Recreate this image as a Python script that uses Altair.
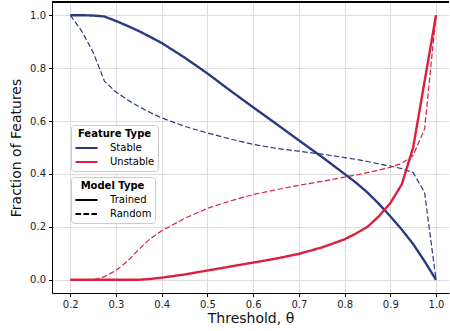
import altair as alt
import pandas as pd

thresholds = [0.2, 0.225, 0.25, 0.275, 0.3, 0.325, 0.35, 0.375, 0.4, 0.45, 0.5, 0.55,
              0.6, 0.65, 0.7, 0.75, 0.8, 0.825, 0.85, 0.875, 0.9, 0.925, 0.95, 0.975, 1.0]

stable_trained = [1.0, 1.0, 0.999, 0.995, 0.978, 0.96, 0.94, 0.918, 0.895, 0.84, 0.78, 0.715,
                  0.652, 0.59, 0.527, 0.465, 0.40, 0.367, 0.33, 0.287, 0.24, 0.19, 0.135, 0.07, 0.0]
stable_random = [1.0, 0.94, 0.86, 0.75, 0.71, 0.68, 0.655, 0.632, 0.612, 0.58, 0.555, 0.532,
                 0.512, 0.497, 0.486, 0.475, 0.462, 0.455, 0.447, 0.438, 0.43, 0.42, 0.405, 0.33, 0.0]
unstable_trained = [0.0, 0.0, 0.0, 0.0, 0.0, 0.0, 0.0, 0.003, 0.008, 0.02, 0.035, 0.05,
                    0.065, 0.08, 0.098, 0.122, 0.153, 0.175, 0.2, 0.24, 0.29, 0.36, 0.5, 0.75, 1.0]
unstable_random = [0.0, 0.0, 0.0, 0.012, 0.035, 0.07, 0.115, 0.155, 0.185, 0.232, 0.27, 0.298,
                   0.322, 0.34, 0.357, 0.372, 0.388, 0.396, 0.405, 0.415, 0.425, 0.44, 0.47, 0.57, 1.0]

feature_types = ["Stable", "Unstable"]
model_types = ["Trained", "Random"]
colors = ["#2c3a82", "#dc1f3e"]

series = {
    ("Stable", "Trained"): stable_trained,
    ("Stable", "Random"): stable_random,
    ("Unstable", "Trained"): unstable_trained,
    ("Unstable", "Random"): unstable_random,
}
rows = []
for (ft, mt), vals in series.items():
    for i, (t, v) in enumerate(zip(thresholds, vals)):
        rows.append({"Threshold": t, "Fraction": v, "Feature Type": ft,
                     "Model Type": mt, "series": ft + "-" + mt, "order": i})
df = pd.DataFrame(rows)

W, H = 397, 291
FONT = "DejaVu Sans"

x_enc = alt.X("Threshold:Q",
              scale=alt.Scale(domain=[0.16, 1.0284], nice=False, zero=False),
              axis=alt.Axis(values=[0.2, 0.3, 0.4, 0.5, 0.6, 0.7, 0.8, 0.9, 1.0], format=".1f",
                            title="Threshold, θ"))
y_enc = alt.Y("Fraction:Q",
              scale=alt.Scale(domain=[-0.05, 1.05], nice=False, zero=False),
              axis=alt.Axis(values=[0.0, 0.2, 0.4, 0.6, 0.8, 1.0], format=".1f",
                            title="Fraction of Features"))
color_enc = alt.Color("Feature Type:N",
                      scale=alt.Scale(domain=feature_types, range=colors),
                      legend=alt.Legend(orient="none", legendX=19, legendY=123))
dash_enc = alt.StrokeDash("Model Type:N",
                          scale=alt.Scale(domain=model_types, range=[[1, 0], [5.5, 2.5]]),
                          legend=alt.Legend(orient="none", legendX=19, legendY=175,
                                            symbolStrokeColor="black"))

base = alt.Chart(df)

trained = base.mark_line(strokeCap="butt", strokeJoin="round", strokeWidth=2.4).encode(
    x=x_enc, y=y_enc, color=color_enc, strokeDash=dash_enc,
    detail="series:N", order="order:Q",
).transform_filter(alt.datum["Model Type"] == "Trained")

random_ = base.mark_line(strokeCap="butt", strokeJoin="round", strokeWidth=1.2).encode(
    x=x_enc, y=y_enc, color=color_enc, strokeDash=dash_enc,
    detail="series:N", order="order:Q",
).transform_filter(alt.datum["Model Type"] == "Random")

top_border = alt.Chart(df).mark_rule(color="black", strokeWidth=1).encode(
    x=alt.value(0), x2=alt.value(W), y=alt.value(0)
)

chart = alt.layer(random_, trained, top_border).properties(
    width=W, height=H,
    autosize=alt.AutoSizeParams(type="none"),
    padding={"left": 52, "top": 2, "right": 1, "bottom": 38},
).configure_view(stroke=None).configure_axis(
    labelFont=FONT, titleFont=FONT, labelFontSize=10, titleFontSize=14,
    labelColor="#222222", titleColor="#111111", titleFontWeight="normal",
    domainColor="black", domainWidth=1, tickColor="black", tickSize=3.5,
    labelPadding=3, gridColor="#dddddd", gridWidth=1,
).configure_axisX(titlePadding=2).configure_axisY(titlePadding=6).configure_legend(
    titleFont=FONT, labelFont=FONT, titleFontSize=10, labelFontSize=10,
    titleFontWeight="bold", titleColor="black", labelColor="black",
    symbolType="M-2,0H2", symbolSize=121, symbolStrokeWidth=2, symbolOffset=5.5,
    symbolFillColor="transparent",
    fillColor="white", strokeColor="#cccccc",
    cornerRadius=3, padding=3.5, rowPadding=2, titlePadding=3, labelOffset=17,
    titleAnchor="middle",
)

chart.save("out.html", embed_options={"renderer": "svg", "actions": False})
